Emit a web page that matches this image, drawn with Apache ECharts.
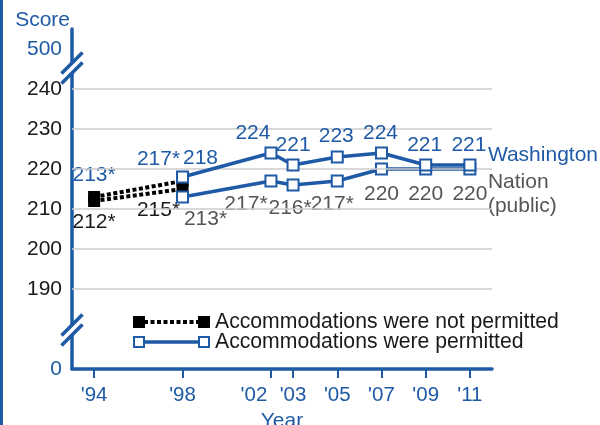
<!DOCTYPE html>
<html><head><meta charset="utf-8">
<script src="https://cdn.jsdelivr.net/npm/echarts@6/dist/echarts.min.js"></script>
<style>html,body{margin:0;padding:0;background:#fff;}#c{width:600px;height:425px;}</style>
</head><body><div id="c"></div>
<script>
// ---- data ----
const tickYears = [1994, 1998, 2002, 2003, 2005, 2007, 2009, 2011];
const tickLabels = ["'94", "'98", "'02", "'03", "'05", "'07", "'09", "'11"];
const yTickValues = [170, 190, 200, 210, 220, 230, 240, 250];
const yTickLabels = ['0', '190', '200', '210', '220', '230', '240', '500'];
const gridValues = [190, 200, 210, 220, 230, 240];

const npYears = [1994, 1998];
const waNotPermitted = [213, 217];
const waNotPermittedSig = [true, true];
const natNotPermitted = [212, 215];
const natNotPermittedSig = [true, true];

const pYears = [1998, 2002, 2003, 2005, 2007, 2009, 2011];
const waPermitted = [218, 224, 221, 223, 224, 221, 221];
const waPermittedSig = [false, false, false, false, false, false, false];
const natPermitted = [213, 217, 216, 217, 220, 220, 220];
const natPermittedSig = [true, true, true, true, false, false, false];

// ---- label placement (style, not data) ----
const waNPPlace = [['top', [0, 0]], ['top', [-24, 0]]];
const natNPPlace = [['bottom', [0, 0]], ['bottom', [-24, 0]]];
const waPPlace = [['top', [18, 3]], ['top', [-18, 2]], ['top', [0, 2]], ['top', [-1, 1]], ['top', [-1, 2]], ['top', [-1, 2]], ['top', [-1, 2]]];
const natPPlace = [['bottom', [23, 0]], ['bottom', [-25, 1]], ['bottom', [-3, 1]], ['bottom', [-5, 1]], ['bottom', [0, 3]], ['bottom', [0, 3]], ['bottom', [0, 3]]];

const BLUE = '#1f5aa6';
const GRAY = '#555555';
const DARK = '#1a1a1a';
const FONT = 'Liberation Sans, Arial, sans-serif';
const FS = 21;

function build(xs, vals, sig, place) {
  return xs.map((x, i) => ({
    value: [x, vals[i]],
    lbl: vals[i] + (sig[i] ? '*' : ''),
    label: { position: place[i][0], offset: place[i][1] }
  }));
}

const chart = echarts.init(document.getElementById('c'), null, { renderer: 'canvas' });

const labelBase = (color) => ({
  show: true, color: color, fontSize: FS, fontFamily: FONT, distance: 5,
  formatter: p => p.data.lbl
});

const option = {
  animation: false,
  backgroundColor: '#fff',
  grid: { left: 72, right: 108, top: 29, bottom: 56, containLabel: false, outerBoundsMode: 'none' },
  xAxis: {
    type: 'value', min: 1993, max: 2012,
    name: 'Year', nameLocation: 'middle', nameGap: 37,
    nameTextStyle: { color: BLUE, fontSize: FS, fontFamily: FONT },
    axisLine: { show: true, onZero: false, lineStyle: { color: BLUE, width: 3.5 } },
    axisTick: { show: true, customValues: tickYears, length: 9, lineStyle: { color: BLUE, width: 2 } },
    axisLabel: {
      customValues: tickYears, margin: 16, color: BLUE, fontSize: 20.5, fontFamily: FONT,
      formatter: v => {
        const t = tickLabels[tickYears.indexOf(v)];
        return v === 2002 ? '{l|' + t + '}' : '{n|' + t + '}';
      },
      rich: {
        l: { color: BLUE, fontSize: 20.5, fontFamily: FONT, padding: [0, 34, 0, 0] },
        n: { color: BLUE, fontSize: 20.5, fontFamily: FONT }
      }
    },
    splitLine: { show: false }
  },
  yAxis: {
    type: 'value', min: 170, max: 255,
    name: 'Score', nameLocation: 'end', nameGap: -2,
    nameTextStyle: { color: BLUE, fontSize: FS, fontFamily: FONT, align: 'right', padding: [0, 2, 0, 0] },
    axisLine: { show: true, lineStyle: { color: BLUE, width: 3.5 } },
    axisTick: { show: false },
    axisLabel: {
      customValues: yTickValues, margin: 10, fontSize: FS, fontFamily: FONT,
      formatter: v => {
        const i = yTickValues.indexOf(v);
        const t = yTickLabels[i];
        return (v === 170 || v === 250) ? '{b|' + t + '}' : '{k|' + t + '}';
      },
      rich: {
        b: { color: BLUE, fontSize: FS, fontFamily: FONT },
        k: { color: DARK, fontSize: FS, fontFamily: FONT }
      }
    },
    splitLine: { show: false }
  },
  series: [
    {
      type: 'line', data: [], z: 1, silent: true,
      markLine: {
        silent: true, symbol: 'none', label: { show: false },
        lineStyle: { color: '#cccccc', width: 1.5, type: 'solid' },
        data: gridValues.map(v => ({ yAxis: v }))
      }
    },
    {
      name: 'wa-np', type: 'line', z: 3,
      data: build(npYears, waNotPermitted, waNotPermittedSig, waNPPlace),
      symbol: 'rect', symbolSize: 12,
      lineStyle: { color: '#000', width: 4, type: [4, 2.5], cap: 'butt' },
      itemStyle: { color: '#000' },
      label: labelBase(BLUE)
    },
    {
      name: 'nat-np', type: 'line', z: 3,
      data: build(npYears, natNotPermitted, natNotPermittedSig, natNPPlace),
      symbol: 'rect', symbolSize: 12,
      lineStyle: { color: '#000', width: 4, type: [4, 2.5], cap: 'butt' },
      itemStyle: { color: '#000' },
      label: labelBase(DARK)
    },
    {
      name: 'nat-p', type: 'line', z: 4,
      data: build(pYears, natPermitted, natPermittedSig, natPPlace),
      symbol: 'rect', symbolSize: 11,
      lineStyle: { color: BLUE, width: 3.5 },
      itemStyle: { color: '#fff', borderColor: BLUE, borderWidth: 2 },
      label: labelBase(GRAY),
      endLabel: {
        show: true, formatter: 'Nation\n(public)', color: GRAY, fontSize: FS, fontFamily: FONT,
        lineHeight: 23.5, distance: 18, offset: [0, 25], align: 'left'
      }
    },
    {
      name: 'wa-p', type: 'line', z: 5,
      data: build(pYears, waPermitted, waPermittedSig, waPPlace),
      symbol: 'rect', symbolSize: 11,
      lineStyle: { color: BLUE, width: 3.5 },
      itemStyle: { color: '#fff', borderColor: BLUE, borderWidth: 2 },
      label: labelBase(BLUE),
      endLabel: {
        show: true, formatter: 'Washington', color: BLUE, fontSize: FS, fontFamily: FONT,
        distance: 18, offset: [0, -10], align: 'left'
      }
    }
  ]
};
chart.setOption(option);

// ---- decorations: axis breaks, legend, frame ----
const ax = chart.convertToPixel({ gridIndex: 0 }, [1993, 245.25]);
const ax2 = chart.convertToPixel({ gridIndex: 0 }, [1993, 179.75]);
function breakMark(x, y) {
  const g = 5, d = 10.5;
  return [
    { type: 'polygon', shape: { points: [[x - 4, y - g + 4], [x + 4, y - g - 4], [x + 4, y + g - 4], [x - 4, y + g + 4]] }, style: { fill: '#fff' }, z: 100 },
    { type: 'line', shape: { x1: x - d, y1: y - g + d, x2: x + d, y2: y - g - d }, style: { stroke: BLUE, lineWidth: 3.5 }, z: 101 },
    { type: 'line', shape: { x1: x - d, y1: y + g + d, x2: x + d, y2: y + g - d }, style: { stroke: BLUE, lineWidth: 3.5 }, z: 101 }
  ];
}
const lx = 133, ly1 = 322, ly2 = 342;
const legend = [
  { type: 'line', shape: { x1: lx + 11, y1: ly1, x2: lx + 66, y2: ly1 }, style: { stroke: '#000', lineWidth: 4, lineDash: [4, 2.5] }, z: 100 },
  { type: 'rect', shape: { x: lx, y: ly1 - 6, width: 12, height: 12 }, style: { fill: '#000' }, z: 101 },
  { type: 'rect', shape: { x: lx + 65, y: ly1 - 6, width: 12, height: 12 }, style: { fill: '#000' }, z: 101 },
  { type: 'text', x: lx + 82, y: ly1, style: { text: 'Accommodations were not permitted', fill: DARK, font: '21.2px ' + FONT, verticalAlign: 'middle' }, z: 101 },
  { type: 'line', shape: { x1: lx + 10, y1: ly2, x2: lx + 67, y2: ly2 }, style: { stroke: BLUE, lineWidth: 3.5 }, z: 100 },
  { type: 'rect', shape: { x: lx + 1, y: ly2 - 5, width: 10, height: 10 }, style: { fill: '#fff', stroke: BLUE, lineWidth: 2 }, z: 101 },
  { type: 'rect', shape: { x: lx + 66, y: ly2 - 5, width: 10, height: 10 }, style: { fill: '#fff', stroke: BLUE, lineWidth: 2 }, z: 101 },
  { type: 'text', x: lx + 82, y: ly2, style: { text: 'Accommodations were permitted', fill: DARK, font: '21.2px ' + FONT, verticalAlign: 'middle' }, z: 101 }
];
chart.setOption({
  graphic: [
    { type: 'rect', shape: { x: 0, y: 0, width: 3, height: 425 }, style: { fill: BLUE }, z: 100 },
    ...breakMark(ax[0], ax[1]),
    ...breakMark(ax2[0], ax2[1]),
    ...legend
  ]
});
</script></body></html>
